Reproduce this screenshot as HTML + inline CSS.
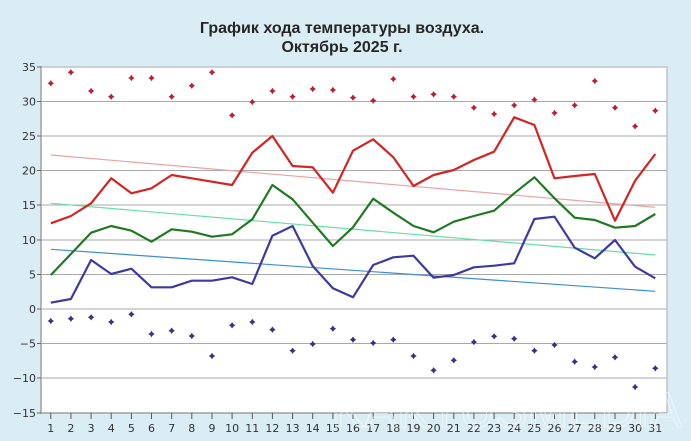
<!DOCTYPE html>
<html><head><meta charset="utf-8"><style>
html,body{margin:0;padding:0;background:#daedf5;}
svg{display:block;}
</style></head><body>
<svg width="691" height="441" viewBox="0 0 691 441" xmlns="http://www.w3.org/2000/svg">
<rect x="0" y="0" width="691" height="441" fill="#daedf5"/>
<g font-family="Liberation Sans, Arial, sans-serif" font-weight="bold" font-size="16" fill="#262626" text-anchor="middle">
<text x="342" y="33">График хода температуры воздуха.</text>
<text x="342" y="52">Октябрь 2025 г.</text>
</g>
<rect x="41" y="67" width="626" height="346" fill="#ffffff"/>
<g stroke="#a9a9a9" stroke-width="1">
<line x1="41" y1="101.5" x2="667" y2="101.5"/>
<line x1="41" y1="136" x2="667" y2="136"/>
<line x1="41" y1="170.5" x2="667" y2="170.5"/>
<line x1="41" y1="205" x2="667" y2="205"/>
<line x1="41" y1="240" x2="667" y2="240"/>
<line x1="41" y1="274.5" x2="667" y2="274.5"/>
<line x1="41" y1="309" x2="667" y2="309"/>
<line x1="41" y1="343.5" x2="667" y2="343.5"/>
<line x1="41" y1="378" x2="667" y2="378"/>
</g>
<rect x="41" y="67" width="626" height="346" fill="none" stroke="#bfc4c8" stroke-width="1.5"/>
<line x1="41" y1="66" x2="41" y2="414" stroke="#a8a8a8" stroke-width="1.5"/>
<line x1="40" y1="413" x2="667" y2="413" stroke="#a8a8a8" stroke-width="1.5"/>
<!-- y ticks -->
<g stroke="#666" stroke-width="1">
<line x1="37" y1="67" x2="41" y2="67"/><line x1="37" y1="101.5" x2="41" y2="101.5"/><line x1="37" y1="136" x2="41" y2="136"/><line x1="37" y1="170.5" x2="41" y2="170.5"/><line x1="37" y1="205" x2="41" y2="205"/><line x1="37" y1="240" x2="41" y2="240"/><line x1="37" y1="274.5" x2="41" y2="274.5"/><line x1="37" y1="309" x2="41" y2="309"/><line x1="37" y1="343.5" x2="41" y2="343.5"/><line x1="37" y1="378" x2="41" y2="378"/><line x1="37" y1="413" x2="41" y2="413"/>
</g>
<g font-family="DejaVu Sans, Verdana, sans-serif" font-size="11" fill="#333" text-anchor="end">
<text x="36" y="71">35</text><text x="36" y="105.5">30</text><text x="36" y="140">25</text><text x="36" y="174.5">20</text><text x="36" y="209">15</text><text x="36" y="244">10</text><text x="36" y="278.5">5</text><text x="36" y="313">0</text><text x="36" y="347.5">−5</text><text x="36" y="382">−10</text><text x="36" y="417">−15</text>
</g>
<!-- x ticks -->
<g stroke="#555" stroke-width="1">
<line x1="50.8" y1="413" x2="50.8" y2="419"/><line x1="70.9" y1="413" x2="70.9" y2="419"/><line x1="91.1" y1="413" x2="91.1" y2="419"/><line x1="111.2" y1="413" x2="111.2" y2="419"/><line x1="131.4" y1="413" x2="131.4" y2="419"/><line x1="151.5" y1="413" x2="151.5" y2="419"/><line x1="171.7" y1="413" x2="171.7" y2="419"/><line x1="191.8" y1="413" x2="191.8" y2="419"/><line x1="212" y1="413" x2="212" y2="419"/><line x1="232.1" y1="413" x2="232.1" y2="419"/><line x1="252.3" y1="413" x2="252.3" y2="419"/><line x1="272.4" y1="413" x2="272.4" y2="419"/><line x1="292.6" y1="413" x2="292.6" y2="419"/><line x1="312.7" y1="413" x2="312.7" y2="419"/><line x1="332.9" y1="413" x2="332.9" y2="419"/><line x1="353" y1="413" x2="353" y2="419"/><line x1="373.2" y1="413" x2="373.2" y2="419"/><line x1="393.3" y1="413" x2="393.3" y2="419"/><line x1="413.5" y1="413" x2="413.5" y2="419"/><line x1="433.6" y1="413" x2="433.6" y2="419"/><line x1="453.8" y1="413" x2="453.8" y2="419"/><line x1="473.9" y1="413" x2="473.9" y2="419"/><line x1="494.1" y1="413" x2="494.1" y2="419"/><line x1="514.2" y1="413" x2="514.2" y2="419"/><line x1="534.4" y1="413" x2="534.4" y2="419"/><line x1="554.5" y1="413" x2="554.5" y2="419"/><line x1="574.7" y1="413" x2="574.7" y2="419"/><line x1="594.8" y1="413" x2="594.8" y2="419"/><line x1="615" y1="413" x2="615" y2="419"/><line x1="635.1" y1="413" x2="635.1" y2="419"/><line x1="655.3" y1="413" x2="655.3" y2="419"/>
</g>
<g font-family="DejaVu Sans, Verdana, sans-serif" font-size="11" fill="#333" text-anchor="middle">
<text x="50.8" y="432">1</text><text x="70.9" y="432">2</text><text x="91.1" y="432">3</text><text x="111.2" y="432">4</text><text x="131.4" y="432">5</text><text x="151.5" y="432">6</text><text x="171.7" y="432">7</text><text x="191.8" y="432">8</text><text x="212" y="432">9</text><text x="232.1" y="432">10</text><text x="252.3" y="432">11</text><text x="272.4" y="432">12</text><text x="292.6" y="432">13</text><text x="312.7" y="432">14</text><text x="332.9" y="432">15</text><text x="353" y="432">16</text><text x="373.2" y="432">17</text><text x="393.3" y="432">18</text><text x="413.5" y="432">19</text><text x="433.6" y="432">20</text><text x="453.8" y="432">21</text><text x="473.9" y="432">22</text><text x="494.1" y="432">23</text><text x="514.2" y="432">24</text><text x="534.4" y="432">25</text><text x="554.5" y="432">26</text><text x="574.7" y="432">27</text><text x="594.8" y="432">28</text><text x="615" y="432">29</text><text x="635.1" y="432">30</text><text x="655.3" y="432">31</text>
</g>
<!-- trend lines -->
<line x1="50.8" y1="155" x2="655.3" y2="207.3" stroke="#e8a3a3" stroke-width="1.2"/>
<line x1="50.8" y1="203.3" x2="655.3" y2="255" stroke="#62e0a6" stroke-width="1.2"/>
<line x1="50.8" y1="249.3" x2="655.3" y2="291.3" stroke="#3d8fd4" stroke-width="1.2"/>
<!-- series lines -->
<polyline fill="none" stroke="#d42424" stroke-width="2.2" stroke-linejoin="round" points="50.8,223.3 70.9,216 91.1,203.3 111.2,178.3 131.4,193.3 151.5,188.3 171.7,175 191.8,178.3 212,181.7 232.1,185 252.3,152.7 272.4,136 292.6,166 312.7,167.3 332.9,192.7 353,150.7 373.2,139.3 393.3,157.3 413.5,186 433.6,175 453.8,170 473.9,160 494.1,151.7 514.2,117.3 534.4,125 554.5,178.3 574.7,176 594.8,174 615,220.7 635.1,180.7 655.3,154"/>
<polyline fill="none" stroke="#1f7a22" stroke-width="2.2" stroke-linejoin="round" points="50.8,275 70.9,254 91.1,232.7 111.2,226 131.4,230.7 151.5,241.7 171.7,229.3 191.8,231.7 212,236.7 232.1,234.3 252.3,219.3 272.4,185 292.6,199.3 312.7,222.7 332.9,246 353,227.3 373.2,198.7 393.3,212.7 413.5,226 433.6,232.3 453.8,221.7 473.9,216 494.1,210.7 514.2,193.3 534.4,177.3 554.5,198.3 574.7,217.7 594.8,220 615,227.7 635.1,226 655.3,214"/>
<polyline fill="none" stroke="#3f3aa0" stroke-width="2.2" stroke-linejoin="round" points="50.8,302.7 70.9,299 91.1,260 111.2,274 131.4,268.7 151.5,287.3 171.7,287.3 191.8,280.7 212,280.7 232.1,277.3 252.3,284 272.4,235.7 292.6,226 312.7,266 332.9,288.3 353,297.3 373.2,265 393.3,257.3 413.5,255.7 433.6,277.7 453.8,275 473.9,267.3 494.1,265.7 514.2,263.3 534.4,219 554.5,216.7 574.7,247.7 594.8,258.3 615,240 635.1,266.7 655.3,278.3"/>
<!-- markers -->
<defs>
<path id="d" d="M0,-3.2 L1.3,-1.3 L3.2,0 L1.3,1.3 L0,3.2 L-1.3,1.3 L-3.2,0 L-1.3,-1.3 Z"/>
</defs>
<g fill="#b81f35">
<use href="#d" x="50.8" y="83.3"/><use href="#d" x="70.9" y="72.3"/><use href="#d" x="91.1" y="91"/><use href="#d" x="111.2" y="96.7"/><use href="#d" x="131.4" y="78"/><use href="#d" x="151.5" y="78"/><use href="#d" x="171.7" y="96.7"/><use href="#d" x="191.8" y="85.7"/><use href="#d" x="212" y="72.3"/><use href="#d" x="232.1" y="115.3"/><use href="#d" x="252.3" y="102"/><use href="#d" x="272.4" y="91"/><use href="#d" x="292.6" y="96.7"/><use href="#d" x="312.7" y="89"/><use href="#d" x="332.9" y="90"/><use href="#d" x="353" y="97.7"/><use href="#d" x="373.2" y="100.7"/><use href="#d" x="393.3" y="79"/><use href="#d" x="413.5" y="96.7"/><use href="#d" x="433.6" y="94.3"/><use href="#d" x="453.8" y="96.7"/><use href="#d" x="473.9" y="107.7"/><use href="#d" x="494.1" y="114"/><use href="#d" x="514.2" y="105.3"/><use href="#d" x="534.4" y="99.7"/><use href="#d" x="554.5" y="113"/><use href="#d" x="574.7" y="105.3"/><use href="#d" x="594.8" y="81"/><use href="#d" x="615" y="107.7"/><use href="#d" x="635.1" y="126.3"/><use href="#d" x="655.3" y="110.7"/>
</g>
<g fill="#3a2f85">
<use href="#d" x="50.8" y="321"/><use href="#d" x="70.9" y="318.7"/><use href="#d" x="91.1" y="317.3"/><use href="#d" x="111.2" y="322"/><use href="#d" x="131.4" y="314.3"/><use href="#d" x="151.5" y="334"/><use href="#d" x="171.7" y="330.7"/><use href="#d" x="191.8" y="336"/><use href="#d" x="212" y="356"/><use href="#d" x="232.1" y="325.3"/><use href="#d" x="252.3" y="322"/><use href="#d" x="272.4" y="329.7"/><use href="#d" x="292.6" y="350.7"/><use href="#d" x="312.7" y="344"/><use href="#d" x="332.9" y="328.7"/><use href="#d" x="353" y="339.7"/><use href="#d" x="373.2" y="343"/><use href="#d" x="393.3" y="339.7"/><use href="#d" x="413.5" y="356"/><use href="#d" x="433.6" y="370.3"/><use href="#d" x="453.8" y="360.3"/><use href="#d" x="473.9" y="342"/><use href="#d" x="494.1" y="336.3"/><use href="#d" x="514.2" y="338.7"/><use href="#d" x="534.4" y="350.7"/><use href="#d" x="554.5" y="345"/><use href="#d" x="574.7" y="361.7"/><use href="#d" x="594.8" y="367"/><use href="#d" x="615" y="357.3"/><use href="#d" x="635.1" y="387"/><use href="#d" x="655.3" y="368.3"/>
</g>
<!-- watermark -->
<text x="332" y="427" font-family="Liberation Sans, sans-serif" font-size="50" textLength="350" lengthAdjust="spacingAndGlyphs" fill="none" stroke="#ffffff" stroke-width="1" opacity="0.55">KAKTUSMEDIA</text>
</svg>
</body></html>
